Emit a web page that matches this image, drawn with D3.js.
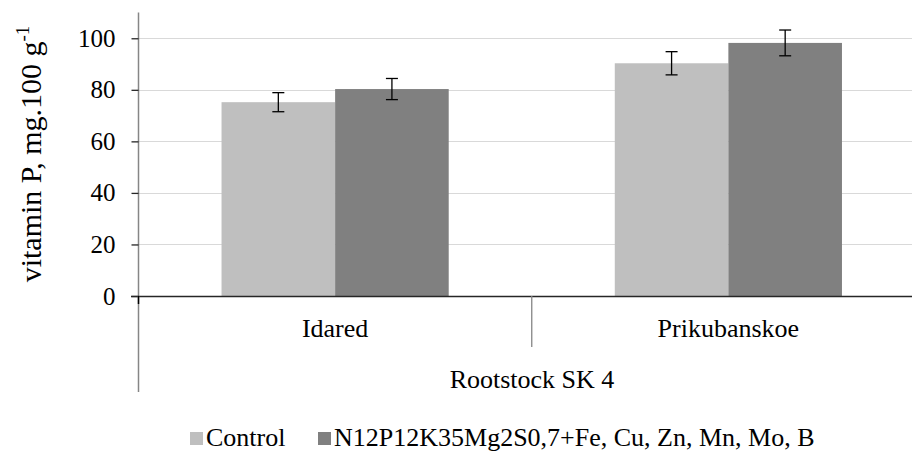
<!DOCTYPE html>
<html>
<head>
<meta charset="utf-8">
<script src="https://cdn.jsdelivr.net/npm/d3@7"></script>
<style>
  body { margin: 0; background: #fff; }
  svg { display: block; }
</style>
</head>
<body>
<svg id="chart" width="912" height="452"></svg>
<script>
// data
var categories = ["Idared", "Prikubanskoe"];
var groupLabel = "Rootstock SK 4";
var seriesNames = ["Control", "N12P12K35Mg2S0,7+Fe, Cu, Zn, Mn, Mo, B"];
var controlValues = [75.2, 90.3];
var treatmentValues = [80.3, 98.2];
var controlErrors = [3.7, 4.5];
var treatmentErrors = [4.1, 5.0];
var yTicks = [0, 20, 40, 60, 80, 100];
var colors = ["#bfbfbf", "#808080"];

var FONT = "Liberation Serif";

var svg = d3.select("#chart");

var x0 = d3.scaleBand()
  .domain(categories)
  .range([138.5, 925])
  .paddingInner(0)
  .paddingOuter(0);

var x1 = d3.scaleBand()
  .domain(seriesNames)
  .range([0, x0.bandwidth()])
  .paddingInner(0)
  .paddingOuter(0.731);

var y = d3.scaleLinear()
  .domain([0, 110])
  .range([296, 12.5]);

// build rows for each category
var rows = categories.map(function(c, i) {
  return {
    cat: c,
    bars: [
      { name: seriesNames[0], value: controlValues[i], err: controlErrors[i], color: colors[0] },
      { name: seriesNames[1], value: treatmentValues[i], err: treatmentErrors[i], color: colors[1] }
    ]
  };
});

// gridlines
svg.append("g")
  .selectAll("line")
  .data(yTicks.filter(function(d) { return d > 0; }))
  .enter()
  .append("line")
  .attr("x1", 138.5)
  .attr("x2", 925)
  .attr("y1", function(d) { return Math.round(y(d)) + 0.5; })
  .attr("y2", function(d) { return Math.round(y(d)) + 0.5; })
  .attr("stroke", "#d9d9d9")
  .attr("stroke-width", 1.2);

// bars
var groups = svg.append("g")
  .selectAll("g")
  .data(rows)
  .enter()
  .append("g")
  .attr("transform", function(d) { return "translate(" + x0(d.cat) + ",0)"; });

groups.selectAll("rect")
  .data(function(d) { return d.bars; })
  .enter()
  .append("rect")
  .attr("x", function(d) { return x1(d.name); })
  .attr("y", function(d) { return y(d.value); })
  .attr("width", x1.bandwidth())
  .attr("height", function(d) { return y(0) - y(d.value); })
  .attr("fill", function(d) { return d.color; });

// error bars
var errs = groups.selectAll("g.err")
  .data(function(d) { return d.bars; })
  .enter()
  .append("g")
  .attr("class", "err")
  .attr("stroke", "#000")
  .attr("stroke-width", 1.3);

errs.append("line")
  .attr("x1", function(d) { return x1(d.name) + x1.bandwidth() / 2; })
  .attr("x2", function(d) { return x1(d.name) + x1.bandwidth() / 2; })
  .attr("y1", function(d) { return y(d.value + d.err); })
  .attr("y2", function(d) { return y(d.value - d.err); });

errs.selectAll("line.cap")
  .data(function(d) { return [[d, d.value + d.err], [d, d.value - d.err]]; })
  .enter()
  .append("line")
  .attr("class", "cap")
  .attr("x1", function(d) { return x1(d[0].name) + x1.bandwidth() / 2 - 6; })
  .attr("x2", function(d) { return x1(d[0].name) + x1.bandwidth() / 2 + 6; })
  .attr("y1", function(d) { return y(d[1]); })
  .attr("y2", function(d) { return y(d[1]); });

// y axis
var yAxis = svg.append("g")
  .attr("transform", "translate(138.5,0)")
  .call(d3.axisLeft(y).tickValues(yTicks).tickSize(7).tickPadding(16));
yAxis.select(".domain")
  .attr("d", "M0," + y(110) + "V" + y(0))
  .attr("stroke", "#868686")
  .attr("stroke-width", 1.5);
yAxis.selectAll(".tick line").attr("stroke", "#262626").attr("stroke-width", 1.3);
yAxis.selectAll(".tick text")
  .style("font-family", FONT)
  .style("font-size", "25px")
  .attr("fill", "#000");

// x axis line
svg.append("line")
  .attr("x1", 131)
  .attr("x2", 925)
  .attr("y1", y(0) + 0.5)
  .attr("y2", y(0) + 0.5)
  .attr("stroke", "#262626")
  .attr("stroke-width", 1.5);

// category separators
svg.append("line")
  .attr("x1", 138.5).attr("x2", 138.5)
  .attr("y1", y(0)).attr("y2", 392)
  .attr("stroke", "#868686").attr("stroke-width", 1.5);
svg.append("line")
  .attr("x1", 138.5).attr("x2", 138.5)
  .attr("y1", y(0)).attr("y2", y(0) + 8)
  .attr("stroke", "#000").attr("stroke-width", 1.5);
svg.append("line")
  .attr("x1", x0(categories[1])).attr("x2", x0(categories[1]))
  .attr("y1", y(0)).attr("y2", 347)
  .attr("stroke", "#868686").attr("stroke-width", 1.3);

// category labels
svg.append("g")
  .selectAll("text")
  .data(categories)
  .enter()
  .append("text")
  .attr("x", function(d) { return x0(d) + x0.bandwidth() / 2; })
  .attr("y", 337)
  .attr("text-anchor", "middle")
  .style("font-family", FONT)
  .style("font-size", "26px")
  .text(function(d) { return d; });

svg.append("text")
  .attr("x", 532)
  .attr("y", 388)
  .attr("text-anchor", "middle")
  .style("font-family", FONT)
  .style("font-size", "26px")
  .text(groupLabel);

// y title
var title = svg.append("text")
  .attr("transform", "translate(41,154) rotate(-90)")
  .attr("text-anchor", "middle")
  .style("font-family", FONT)
  .style("font-size", "30px");
title.append("tspan").text("vitamin P, mg.100 g");
title.append("tspan").attr("dy", -12).style("font-size", "19px").text("-1");

// legend
var legend = svg.append("g");
var legendX = [190, 318];
seriesNames.forEach(function(name, i) {
  legend.append("rect")
    .attr("x", legendX[i])
    .attr("y", 432)
    .attr("width", 13)
    .attr("height", 13)
    .attr("fill", colors[i]);
  legend.append("text")
    .attr("x", legendX[i] + 16)
    .attr("y", 446)
    .style("font-family", FONT)
    .style("font-size", "26px")
    .text(name);
});
</script>
</body>
</html>
